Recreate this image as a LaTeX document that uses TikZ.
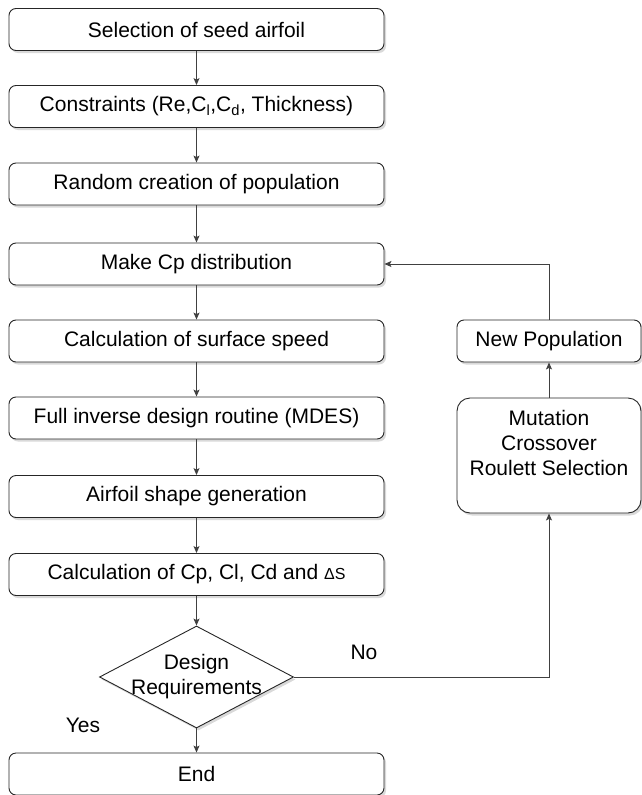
\documentclass[tikz,border=0pt]{standalone}
\usepackage{fontspec}
\setmainfont{Liberation Sans}
\usetikzlibrary{shapes.geometric,shadows,arrows.meta}
\begin{document}
\begin{tikzpicture}[x=1pt,y=-1pt,
  shad/.style={drop shadow={shadow xshift=2pt,shadow yshift=-2.5pt,opacity=0.3,fill=gray}},
  box/.style={draw=black!85,line width=0.9pt,rounded corners=7pt,fill=white,
    minimum width=375,minimum height=42,inner sep=0pt,shad,
    font=\fontsize{21}{25}\selectfont},
  sbox/.style={box,minimum width=184},
  bigbox/.style={sbox,minimum height=115,rounded corners=13pt,align=center},
  dia/.style={diamond,draw=black!85,line width=0.9pt,fill=white,aspect=1.9,
    minimum width=194,minimum height=102,inner sep=0pt,shad},
  lbl/.style={font=\fontsize{21}{25}\selectfont,inner sep=0pt,align=center},
  arr/.style={draw=black!75,line width=0.9pt,-{Stealth[length=7pt,width=6pt,inset=1.5pt]}}
]
\useasboundingbox (0,0) rectangle (642,795);
\node[box] (b1) at (196.5,29.5) {Selection of seed airfoil};
\node[box] (b2) at (196.5,106.5) {Constraints (Re,C\textsubscript{l},C\textsubscript{d}, Thickness)};
\node[box] (b3) at (196.5,184) {Random creation of population};
\node[box] (b4) at (196.5,264) {Make Cp distribution};
\node[box] (b5) at (196.5,341) {Calculation of surface speed};
\node[box] (b6) at (196.5,418) {Full inverse design routine (MDES)};
\node[box] (b7) at (196.5,496.5) {Airfoil shape generation};
\node[box] (b8) at (196.5,574.5) {Calculation of Cp, Cl, Cd and {\fontsize{16}{20}\selectfont ΔS}};
\node[dia] (d) at (196.5,677) {};
\node[lbl] (dt) at (d.center) {Design\\Requirements};
\node[box] (e) at (196.5,774) {End};
\node[sbox] (np) at (549,341) {New Population};
\node[bigbox] (mut) at (549,455.5) {Mutation\\Crossover\\Roulett Selection\\\mbox{}};
\node[lbl] (no) at (364,652) {No};
\node[lbl] (yes) at (83,725) {Yes};
\draw[arr] (b1.south) -- (b2.north);
\draw[arr] (b2.south) -- (b3.north);
\draw[arr] (b3.south) -- (b4.north);
\draw[arr] (b4.south) -- (b5.north);
\draw[arr] (b5.south) -- (b6.north);
\draw[arr] (b6.south) -- (b7.north);
\draw[arr] (b7.south) -- (b8.north);
\draw[arr] (b8.south) -- (d.north);
\draw[arr] (d.south) -- (e.north);
\draw[arr] (d.east) -| (mut.south);
\draw[arr] (mut.north) -- (np.south);
\draw[arr] (np.north) |- (b4.east);
\end{tikzpicture}
\end{document}
